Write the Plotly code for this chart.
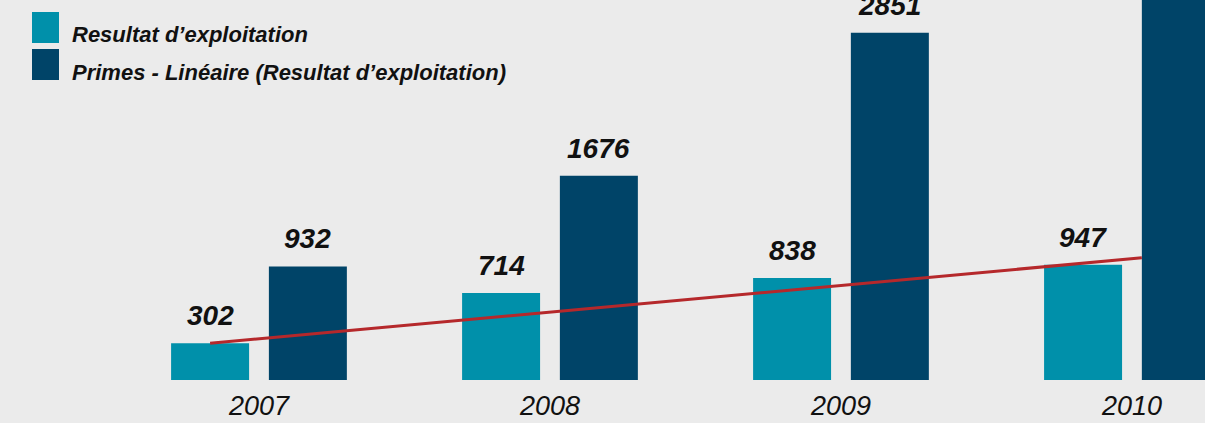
import plotly.graph_objects as go

# ---- data ----
years = ["2007", "2008", "2009", "2010"]
resultat = [302, 714, 838, 947]
primes = [932, 1676, 2851, 3350]
trend_start = 302
trend_end = 1003

TEAL = "#0090aa"
DARK = "#004468"
RED = "#b5282b"
BG = "#ebebeb"

W, H = 1205, 423
PLOT_H = 380
BAR_W = 0.268
OFF = 0.168

idx = list(range(len(years)))
x_teal = [i - OFF for i in idx]
x_dark = [i + OFF for i in idx]

fig = go.Figure()
fig.add_trace(go.Bar(x=x_teal, y=resultat, width=BAR_W, marker=dict(color=TEAL, line=dict(width=0)),
                     name="Resultat d’exploitation", showlegend=False, hoverinfo="y"))
fig.add_trace(go.Bar(x=x_dark, y=primes, width=BAR_W, marker=dict(color=DARK, line=dict(width=0)),
                     name="Primes", showlegend=False, hoverinfo="y"))
fig.add_trace(go.Scatter(x=[x_teal[0], idx[-1] + OFF - BAR_W / 2], y=[trend_start, trend_end],
                         mode="lines", line=dict(color=RED, width=3),
                         name="Linéaire (Resultat d’exploitation)", showlegend=False, hoverinfo="skip"))

label_font = dict(family="Liberation Sans, Arial, sans-serif", size=28, color="#111111",
                  weight="bold", style="italic")
annotations = []
for xs, vals in ((x_teal, resultat), (x_dark, primes)):
    for x, v in zip(xs, vals):
        annotations.append(dict(x=x, y=v, xref="x", yref="y", text=str(v), showarrow=False,
                                xanchor="center", yanchor="bottom", yshift=10, font=label_font))

def px(xp):
    return xp / W

def py(yp):
    return (PLOT_H - yp) / PLOT_H

legend_items = [("Resultat d’exploitation", TEAL, 12, 43, 35),
                ("Primes - Linéaire (Resultat d’exploitation)", DARK, 49, 80, 72)]
shapes = []
leg_font = dict(family="Liberation Sans, Arial, sans-serif", size=22, color="#111111",
                weight="bold", style="italic")
for text, col, y0, y1, ym in legend_items:
    shapes.append(dict(type="rect", xref="paper", yref="paper", x0=px(32), x1=px(59),
                       y0=py(y1), y1=py(y0), fillcolor=col, line=dict(width=0)))
    annotations.append(dict(x=px(70), y=py(ym), xref="paper", yref="paper", text=text,
                            showarrow=False, xanchor="left", yanchor="middle", font=leg_font))

fig.update_layout(
    width=W, height=H,
    margin=dict(l=0, r=0, t=0, b=H - PLOT_H, autoexpand=False),
    paper_bgcolor=BG, plot_bgcolor=BG,
    shapes=shapes, annotations=annotations,
    showlegend=False,
    xaxis=dict(range=[-0.890, 3.251], tickvals=idx, ticktext=years, showgrid=False,
               zeroline=False, showline=False, ticks="outside", ticklen=2,
               tickcolor="rgba(0,0,0,0)", automargin=False,
               tickfont=dict(family="Liberation Sans, Arial, sans-serif", size=27,
                             color="#111111", style="italic")),
    yaxis=dict(range=[0, 3120], visible=False, showgrid=False, zeroline=False, automargin=False),
)

fig.write_html(
    "out.html",
    config={"displayModeBar": False},
    post_script="document.body.style.margin='0';document.body.style.padding='0';"
                "document.body.style.overflow='hidden';document.body.style.background='#ebebeb';",
)
